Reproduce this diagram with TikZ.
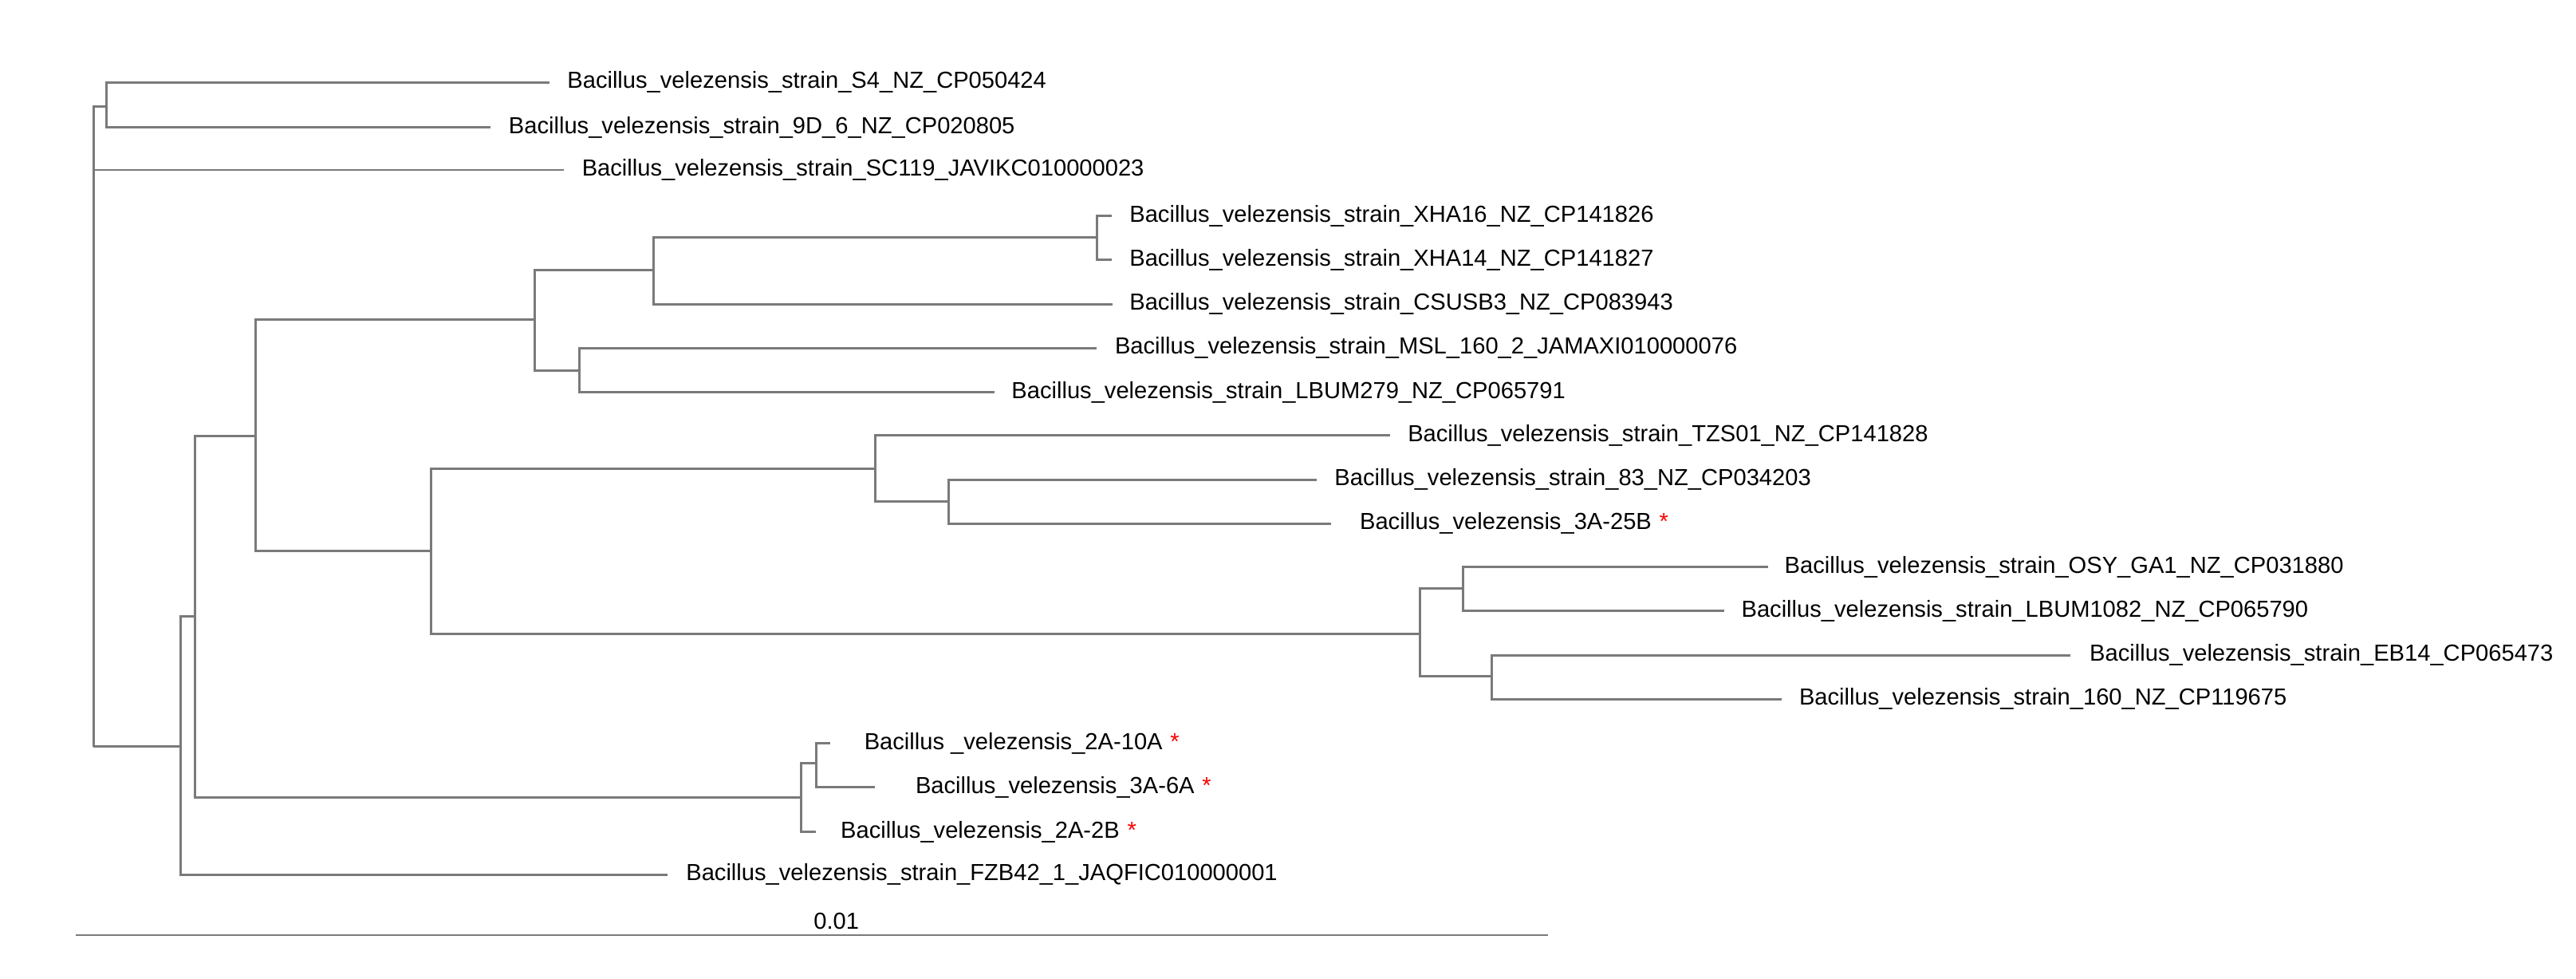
\documentclass[tikz,border=0pt]{standalone}
\usepackage{fontspec}
\setmainfont{Liberation Sans}
\usetikzlibrary{positioning}
\definecolor{branchgray}{HTML}{7A7A7A}
\tikzset{
  branch/.style={draw=branchgray, line width=2pt},
  leaf/.style={anchor=west, inner sep=0pt, font=\fontsize{20.3}{21}\selectfont},
  star/.style={text=red}
}
\newcommand{\leafstar}{\,\,\textcolor{red}{*}}
\begin{document}
\begin{tikzpicture}[x=0.025cm, y=-0.01918cm]
  \useasboundingbox (0,0) rectangle (3166,1567);
  % inner nodes
  \coordinate (root) at (115,1195);
  \coordinate (nA) at (131,170);
  \coordinate (nB) at (222,1195);
  \coordinate (nC) at (240,987);
  \coordinate (nD) at (314,698);
  \coordinate (nE) at (985,1277);
  \coordinate (nF) at (1003,1222);
  \coordinate (nG) at (657,512);
  \coordinate (nH) at (530,882);
  \coordinate (nI) at (803,432);
  \coordinate (nJ) at (712,593);
  \coordinate (nK) at (1348,380);
  \coordinate (nL) at (1076,750);
  \coordinate (nM) at (1745,1015);
  \coordinate (nN) at (1166,803);
  \coordinate (nO) at (1798,942);
  \coordinate (nP) at (1833,1083);

  % tips: branch end, then label
  \coordinate (tS4) at (675,132);    \node[leaf] (S4) at (697,132) {Bacillus\_velezensis\_strain\_S4\_NZ\_CP050424};
  \coordinate (t9D) at (603,204);    \node[leaf] (9D) at (625,204) {Bacillus\_velezensis\_strain\_9D\_6\_NZ\_CP020805};
  \coordinate (tSC) at (693,272);    \node[leaf] (SC) at (715,272) {Bacillus\_velezensis\_strain\_SC119\_JAVIKC010000023};
  \coordinate (tX16) at (1366,346);  \node[leaf] (X16) at (1388,346) {Bacillus\_velezensis\_strain\_XHA16\_NZ\_CP141826};
  \coordinate (tX14) at (1366,416);  \node[leaf] (X14) at (1388,416) {Bacillus\_velezensis\_strain\_XHA14\_NZ\_CP141827};
  \coordinate (tCS) at (1367,487);   \node[leaf] (CS) at (1388,487) {Bacillus\_velezensis\_strain\_CSUSB3\_NZ\_CP083943};
  \coordinate (tMSL) at (1348,557);  \node[leaf] (MSL) at (1370,557) {Bacillus\_velezensis\_strain\_MSL\_160\_2\_JAMAXI010000076};
  \coordinate (tL279) at (1222,628); \node[leaf] (L279) at (1243,628) {Bacillus\_velezensis\_strain\_LBUM279\_NZ\_CP065791};
  \coordinate (tTZ) at (1708,697);   \node[leaf] (TZ) at (1730,697) {Bacillus\_velezensis\_strain\_TZS01\_NZ\_CP141828};
  \coordinate (t83) at (1618,768);   \node[leaf] (83) at (1640,768) {Bacillus\_velezensis\_strain\_83\_NZ\_CP034203};
  \coordinate (t25B) at (1636,838);  \node[leaf] (25B) at (1671,838) {Bacillus\_velezensis\_3A-25B\leafstar};
  \coordinate (tOSY) at (2173,908);  \node[leaf] (OSY) at (2193,908) {Bacillus\_velezensis\_strain\_OSY\_GA1\_NZ\_CP031880};
  \coordinate (tL1082) at (2119,978);\node[leaf] (L1082) at (2140,978) {Bacillus\_velezensis\_strain\_LBUM1082\_NZ\_CP065790};
  \coordinate (tEB) at (2545,1049);  \node[leaf] (EB) at (2568,1049) {Bacillus\_velezensis\_strain\_EB14\_CP065473};
  \coordinate (t160) at (2190,1119); \node[leaf] (160) at (2211,1119) {Bacillus\_velezensis\_strain\_160\_NZ\_CP119675};
  \coordinate (t10A) at (1020,1190); \node[leaf] (10A) at (1062,1190) {Bacillus \_velezensis\_2A-10A\leafstar};
  \coordinate (t6A) at (1075,1260);  \node[leaf] (6A) at (1125,1260) {Bacillus\_velezensis\_3A-6A\leafstar};
  \coordinate (t2B) at (1003,1332);  \node[leaf] (2B) at (1033,1332) {Bacillus\_velezensis\_2A-2B\leafstar};
  \coordinate (tFZ) at (820,1400);   \node[leaf] (FZ) at (843,1400) {Bacillus\_velezensis\_strain\_FZB42\_1\_JAQFIC010000001};

  % branches
  \path[branch] (root) |- (nA) (root) |- (tSC) (root) -- (nB);
  \path[branch] (nA) |- (tS4) (nA) |- (t9D);
  \path[branch] (nB) |- (nC) (nB) |- (tFZ);
  \path[branch] (nC) |- (nD) (nC) |- (nE);
  \path[branch] (nE) |- (nF) (nE) |- (t2B);
  \path[branch] (nF) |- (t10A) (nF) |- (t6A);
  \path[branch] (nD) |- (nG) (nD) |- (nH);
  \path[branch] (nG) |- (nI) (nG) |- (nJ);
  \path[branch] (nI) |- (nK) (nI) |- (tCS);
  \path[branch] (nK) |- (tX16) (nK) |- (tX14);
  \path[branch] (nJ) |- (tMSL) (nJ) |- (tL279);
  \path[branch] (nH) |- (nL) (nH) |- (nM);
  \path[branch] (nL) |- (tTZ) (nL) |- (nN);
  \path[branch] (nN) |- (t83) (nN) |- (t25B);
  \path[branch] (nM) |- (nO) (nM) |- (nP);
  \path[branch] (nO) |- (tOSY) (nO) |- (tL1082);
  \path[branch] (nP) |- (tEB) (nP) |- (t160);

  % scale bar
  \coordinate (barL) at (93,1497);
  \coordinate (barR) at (1903,1497);
  \path[branch] (barL) -- (barR);
  \node[leaf, anchor=south] (barlabel) at (1028,1488) {0.01};
\end{tikzpicture}
\end{document}
